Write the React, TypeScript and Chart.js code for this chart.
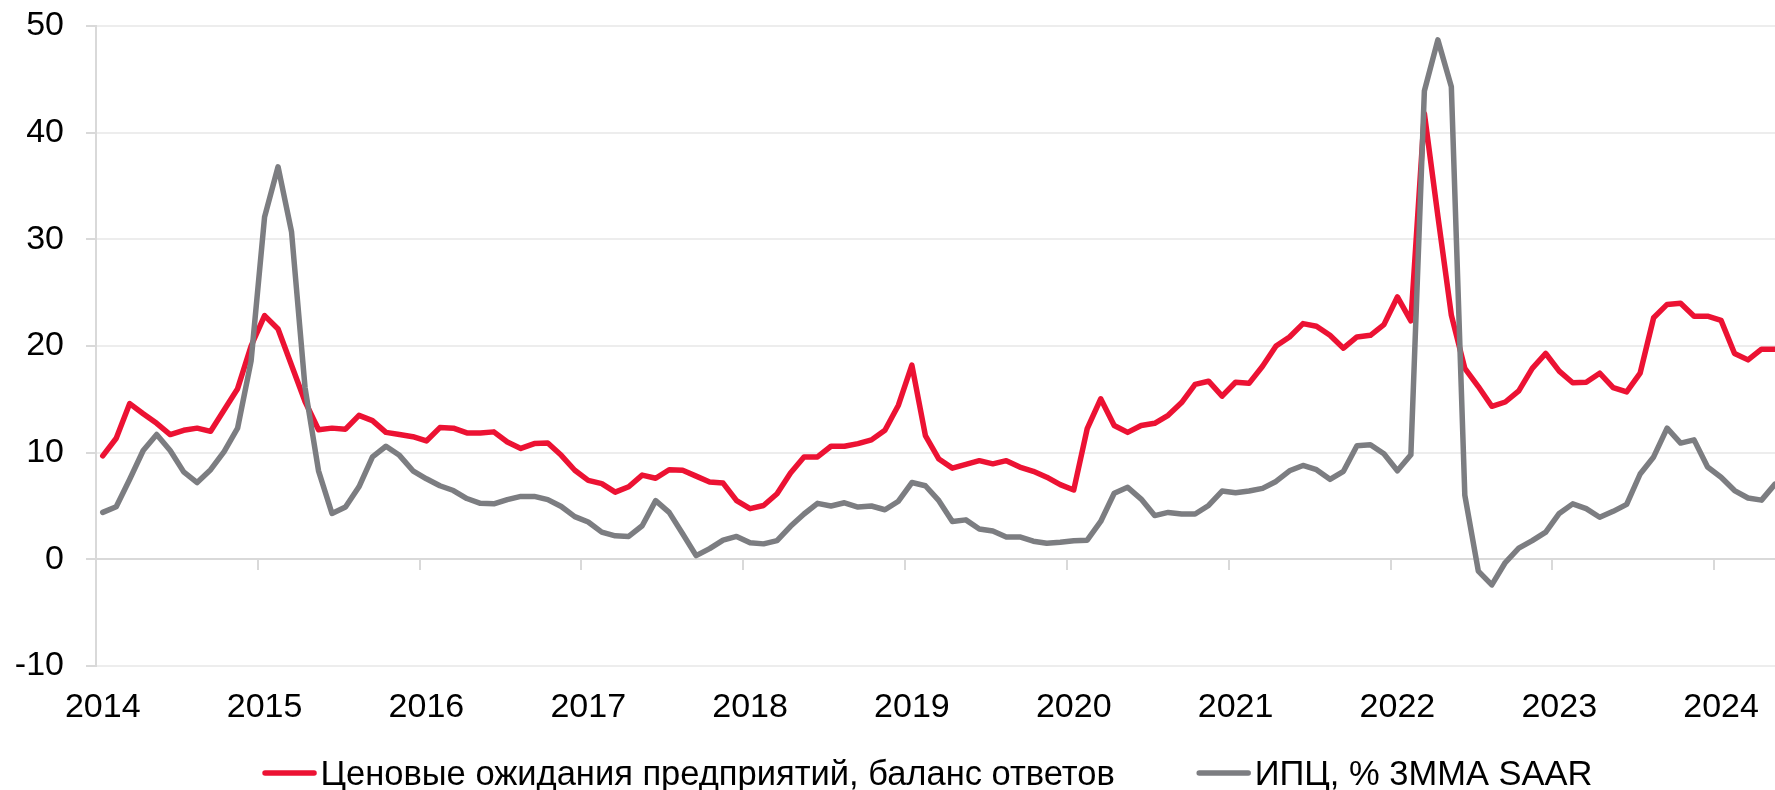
import React, { useEffect, useRef } from 'react';
import { Chart, registerables } from 'chart.js';

Chart.register(...registerables);

// Year labels (one per January)
const yearLabels = ['2014', '2015', '2016', '2017', '2018', '2019', '2020', '2021', '2022', '2023', '2024'];

const seriesNames = ['Ценовые ожидания предприятий, баланс ответов', 'ИПЦ, % 3ММА SAAR'];

// Monthly values, Jan 2014 .. May 2024
const priceExpectations = [
  9.7, 11.35, 14.6, 13.65, 12.75, 11.7, 12.1, 12.3, 12.0, 14.0, 16.0, 20.0,
  22.85, 21.6, 18.2, 14.8, 12.15, 12.3, 12.2, 13.5, 13.0, 11.9, 11.7, 11.5,
  11.1, 12.35, 12.3, 11.85, 11.85, 11.95, 11.0, 10.4, 10.85, 10.9, 9.75, 8.35,
  7.4, 7.1, 6.3, 6.8, 7.9, 7.6, 8.4, 8.35, 7.8, 7.25, 7.15, 5.5,
  4.75, 5.05, 6.15, 8.1, 9.6, 9.6, 10.6, 10.6, 10.85, 11.2, 12.1, 14.45,
  18.2, 11.6, 9.4, 8.55, 8.9, 9.25, 8.95, 9.25, 8.65, 8.25, 7.7, 7.0,
  6.5, 12.25, 15.05, 12.55, 11.9, 12.55, 12.75, 13.5, 14.7, 16.4, 16.7, 15.3,
  16.6, 16.5, 18.1, 20.0, 20.85, 22.1, 21.85, 21.0, 19.8, 20.85, 21.0, 22.0,
  24.6, 22.35, 41.8, 32.2, 22.9, 17.9, 16.2, 14.35, 14.75, 15.8, 17.9, 19.3,
  17.65, 16.55, 16.6, 17.45, 16.1, 15.7, 17.45, 22.65, 23.9, 24.0, 22.8, 22.8,
  22.4, 19.3, 18.7, 19.7, 19.7,
];

const cpi3mmaSaar = [
  4.4, 4.93, 7.5, 10.2, 11.7, 10.2, 8.2, 7.2, 8.4, 10.1, 12.3, 18.6,
  32.1, 36.8, 30.7, 16.1, 8.3, 4.3, 4.9, 6.8, 9.6, 10.6, 9.75, 8.3,
  7.55, 6.9, 6.45, 5.7, 5.25, 5.2, 5.6, 5.9, 5.9, 5.6, 4.95, 4.0,
  3.5, 2.55, 2.2, 2.15, 3.15, 5.5, 4.4, 2.4, 0.35, 1.0, 1.8, 2.15,
  1.55, 1.45, 1.75, 3.1, 4.25, 5.25, 5.0, 5.3, 4.9, 5.0, 4.65, 5.45,
  7.2, 6.9, 5.5, 3.55, 3.7, 2.85, 2.65, 2.1, 2.1, 1.7, 1.5, 1.6,
  1.75, 1.8, 3.55, 6.2, 6.75, 5.65, 4.1, 4.4, 4.25, 4.25, 5.05, 6.4,
  6.25, 6.4, 6.65, 7.3, 8.3, 8.8, 8.4, 7.5, 8.25, 10.65, 10.75, 9.9,
  8.3, 9.8, 43.9, 48.7, 44.3, 6.0, -1.1, -2.4, -0.3, 1.05, 1.75, 2.55,
  4.3, 5.2, 4.75, 3.95, 4.5, 5.15, 8.0, 9.6, 12.3, 10.9, 11.2, 8.65,
  7.7, 6.45, 5.75, 5.55, 7.05,
];

const RED = '#EC1233';
const GREY = '#7C7D81';
const FONT_FAMILY = '"Liberation Sans", Arial, sans-serif';
const FONT_SIZE = 34;
const LEGEND_FONT_SIZE = 34.5;
const MONTHS_PER_YEAR = 12;

// legend geometry
const SAMPLE_W = 54;
const SAMPLE_GAP = 4;
const ITEM_GAP = 82;

const bottomLegend = {
  id: 'bottomLegend',
  afterDraw(chart: any) {
    const ctx = chart.ctx as CanvasRenderingContext2D;
    const area = chart.chartArea;
    ctx.save();
    ctx.font = `${LEGEND_FONT_SIZE}px ${FONT_FAMILY}`;
    ctx.textAlign = 'left';
    ctx.textBaseline = 'alphabetic';
    const items = chart.data.datasets.map((ds: any) => ({
      text: ds.label as string,
      color: ds.borderColor as string,
      w: ctx.measureText(ds.label).width,
    }));
    const total =
      items.reduce((s: number, it: any) => s + SAMPLE_W + SAMPLE_GAP + it.w, 0) + ITEM_GAP * (items.length - 1);
    let x = (area.left + area.right) / 2 - 8 - total / 2;
    const lineY = area.bottom + 107;
    const baseY = area.bottom + 119;
    items.forEach((it: any) => {
      ctx.strokeStyle = it.color;
      ctx.lineWidth = 5.5;
      ctx.lineCap = 'round';
      ctx.beginPath();
      ctx.moveTo(x + 2.5, lineY);
      ctx.lineTo(x + SAMPLE_W - 2.5, lineY);
      ctx.stroke();
      ctx.fillStyle = '#000';
      ctx.fillText(it.text, x + SAMPLE_W + SAMPLE_GAP, baseY);
      x += SAMPLE_W + SAMPLE_GAP + it.w + ITEM_GAP;
    });
    ctx.restore();
  },
};

export default function App() {
  const ref = useRef<HTMLCanvasElement | null>(null);

  useEffect(() => {
    if (!ref.current) return;
    const font = { family: FONT_FAMILY, size: FONT_SIZE };
    const lastIndex = priceExpectations.length - 1;

    const chart = new Chart(ref.current, {
      type: 'line',
      data: {
        datasets: [
          {
            label: seriesNames[0],
            data: priceExpectations.map((y, i) => ({ x: i, y })),
            borderColor: RED,
            backgroundColor: RED,
            borderWidth: 5.5,
            pointRadius: 0,
            borderJoinStyle: 'round',
            borderCapStyle: 'round',
            tension: 0,
            order: 1,
          },
          {
            label: seriesNames[1],
            data: cpi3mmaSaar.map((y, i) => ({ x: i, y })),
            borderColor: GREY,
            backgroundColor: GREY,
            borderWidth: 5.5,
            pointRadius: 0,
            borderJoinStyle: 'round',
            borderCapStyle: 'round',
            tension: 0,
            order: 0,
          },
        ],
      },
      options: {
        animation: false,
        responsive: true,
        maintainAspectRatio: false,
        layout: { padding: { top: 26, bottom: 54, left: 0, right: 0 } },
        scales: {
          x: {
            type: 'linear',
            min: -0.5,
            max: lastIndex,
            afterBuildTicks: (s: any) => {
              s.ticks = yearLabels.map((_, k) => ({ value: k * MONTHS_PER_YEAR }));
            },
            afterFit: (s: any) => {
              s.height = 70;
              s.paddingLeft = 0;
              s.paddingRight = 0;
            },
            ticks: {
              callback: (v: any) => yearLabels[Math.round(Number(v) / MONTHS_PER_YEAR)],
              font,
              color: '#000',
              padding: 21,
              autoSkip: false,
              maxRotation: 0,
            },
            grid: { display: false, drawTicks: false },
            border: { display: false },
          },
          x2: {
            type: 'linear',
            axis: 'x',
            position: { y: 0 },
            min: -0.5,
            max: lastIndex,
            afterBuildTicks: (s: any) => {
              s.ticks = yearLabels.map((_, k) => ({ value: k * MONTHS_PER_YEAR - 0.5 }));
            },
            afterFit: (s: any) => {
              s.paddingLeft = 0;
              s.paddingRight = 0;
              s.paddingTop = 0;
              s.paddingBottom = 0;
            },
            ticks: { display: false },
            grid: { drawOnChartArea: false, drawTicks: true, tickLength: 10, color: '#d9d9d9', lineWidth: 2 },
            border: { display: true, color: '#d9d9d9', width: 2 },
          },
          y: {
            min: -10,
            max: 50,
            afterFit: (s: any) => {
              s.width = 96;
              s.paddingTop = 0;
              s.paddingBottom = 0;
            },
            ticks: { stepSize: 10, font, color: '#000', padding: 22 },
            grid: { color: '#ededed', lineWidth: 2, tickColor: '#d9d9d9', tickLength: 10 },
            border: { display: true, color: '#d9d9d9', width: 2 },
          },
        } as any,
        plugins: {
          legend: { display: false },
          tooltip: { enabled: false },
        },
      },
      plugins: [bottomLegend],
    });
    return () => chart.destroy();
  }, []);

  return (
    <div style={{ position: 'fixed', left: 0, top: 0, width: '1775px', height: '790px', background: '#fff' }}>
      <canvas ref={ref} />
    </div>
  );
}
